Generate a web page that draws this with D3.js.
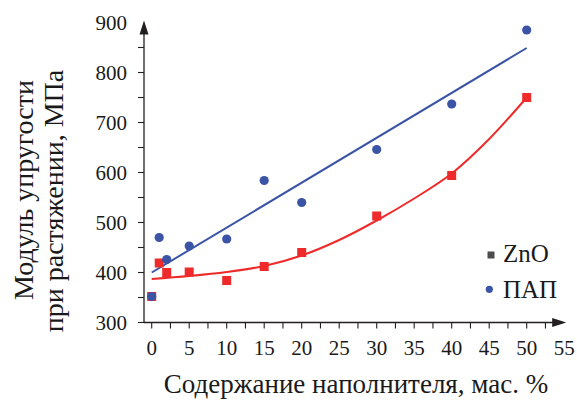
<!DOCTYPE html>
<html>
<head>
<meta charset="utf-8">
<script src="https://cdn.jsdelivr.net/npm/d3@7"></script>
<style>
  body { margin: 0; background: #fff; }
</style>
</head>
<body>
<div id="chart"></div>
<script>
// filler content, wt. %
var zno_x = [0, 1, 2, 5, 10, 15, 20, 30, 40, 50];
var zno_y = [352, 419, 400, 401, 384, 412, 440, 513, 594, 750];
var pap_x = [0, 1, 2, 5, 10, 15, 20, 30, 40, 50];
var pap_y = [352, 470, 426, 453, 467, 584, 540, 646, 737, 885];

// trend lines
var zno_fit_x = [0, 5, 10, 15, 20, 25, 30, 35, 40, 45, 50];
var zno_fit_y = [387, 393, 401, 413, 434, 465, 504, 548, 598, 667, 750];
var pap_fit_x = [0, 50];
var pap_fit_y = [400, 849];

var y_ticks = [300, 400, 500, 600, 700, 800, 900];
var x_ticks = [0, 5, 10, 15, 20, 25, 30, 35, 40, 45, 50, 55];
var legend_names = ["ZnO", "ПАП"];

var W = 577, H = 401;
var FONT = "'Liberation Serif'";
var svg = d3.select("#chart").append("svg")
    .attr("width", W)
    .attr("height", H);

var x = d3.scaleLinear().domain([0, 55]).range([151.7, 564.2]);
var y = d3.scaleLinear().domain([300, 900]).range([322.5, 22.5]);

var axisColor = "#231f20";
var textColor = "#1a1a1a";
var blue = "#3b54a5", red = "#ee2a2a";
var x0 = 144; // where the y axis sits

// y axis line + arrow
svg.append("line")
    .attr("x1", x0).attr("x2", x0)
    .attr("y1", y(300)).attr("y2", y(900) + 4)
    .attr("stroke", axisColor).attr("stroke-width", 1.3);
svg.append("path")
    .attr("d", "M" + x0 + "," + (y(900) - 2) + "L" + (x0 - 4.5) + "," + (y(900) + 12) + "L" + (x0 + 4.5) + "," + (y(900) + 12) + "Z")
    .attr("fill", axisColor);

// x axis line + arrow
svg.append("line")
    .attr("x1", x0).attr("x2", x(55) - 4)
    .attr("y1", y(300)).attr("y2", y(300))
    .attr("stroke", axisColor).attr("stroke-width", 1.3);
svg.append("path")
    .attr("d", "M" + (x(55) + 2) + "," + y(300) + "L" + (x(55) - 12) + "," + (y(300) - 4.5) + "L" + (x(55) - 12) + "," + (y(300) + 4.5) + "Z")
    .attr("fill", axisColor);

// y ticks (major + minor), all on the left side
var yTickVals = d3.range(300, 900, 50);
svg.selectAll(".ytick").data(yTickVals).enter().append("line")
    .attr("x1", x0 - 6).attr("x2", x0)
    .attr("y1", function (d) { return y(d); })
    .attr("y2", function (d) { return y(d); })
    .attr("stroke", axisColor).attr("stroke-width", 1.1);

svg.selectAll(".ylab").data(y_ticks).enter().append("text")
    .attr("x", 127)
    .attr("y", function (d) { return y(d) + 7; })
    .attr("text-anchor", "end")
    .attr("fill", textColor)
    .style("font-family", FONT)
    .style("font-size", "21px")
    .text(function (d) { return d; });

// x ticks every 2.5, below the axis
var xTickVals = d3.range(0, 55, 2.5);
svg.selectAll(".xtick").data(xTickVals).enter().append("line")
    .attr("x1", function (d) { return x(d); })
    .attr("x2", function (d) { return x(d); })
    .attr("y1", y(300)).attr("y2", y(300) + 6)
    .attr("stroke", axisColor).attr("stroke-width", 1.1);

svg.selectAll(".xlab").data(x_ticks).enter().append("text")
    .attr("x", function (d) { return x(d); })
    .attr("y", 355)
    .attr("text-anchor", "middle")
    .attr("fill", textColor)
    .style("font-family", FONT)
    .style("font-size", "21px")
    .text(function (d) { return d; });

// axis titles
svg.append("text")
    .attr("x", 356).attr("y", 393)
    .attr("text-anchor", "middle")
    .attr("fill", textColor)
    .style("font-family", FONT)
    .style("font-size", "27px")
    .text("Содержание наполнителя, мас. %");

svg.append("text")
    .attr("transform", "translate(33,190) rotate(-90)")
    .attr("text-anchor", "middle")
    .attr("fill", textColor)
    .style("font-family", FONT)
    .style("font-size", "28px")
    .text("Модуль упругости");
svg.append("text")
    .attr("transform", "translate(63,201) rotate(-90)")
    .attr("text-anchor", "middle")
    .attr("fill", textColor)
    .style("font-family", FONT)
    .style("font-size", "28px")
    .text("при растяжении, МПа");

// trend lines
var zFit = zno_fit_x.map(function (d, i) { return [d, zno_fit_y[i]]; });
var pFit = pap_fit_x.map(function (d, i) { return [d, pap_fit_y[i]]; });
var line = d3.line()
    .x(function (d) { return x(d[0]); })
    .y(function (d) { return y(d[1]); })
    .curve(d3.curveCatmullRom);

svg.append("path").datum(zFit)
    .attr("d", line).attr("fill", "none")
    .attr("stroke", red).attr("stroke-width", 2);
svg.append("path").datum(pFit)
    .attr("d", line).attr("fill", "none")
    .attr("stroke", blue).attr("stroke-width", 2);

// points: squares for ZnO, circles for ПАП on top
var zPts = zno_x.map(function (d, i) { return [d, zno_y[i]]; });
var pPts = pap_x.map(function (d, i) { return [d, pap_y[i]]; });
var sq = 9;
svg.selectAll(".zno").data(zPts).enter().append("rect")
    .attr("x", function (d) { return x(d[0]) - sq / 2; })
    .attr("y", function (d) { return y(d[1]) - sq / 2; })
    .attr("width", sq).attr("height", sq)
    .attr("fill", red);
svg.selectAll(".pap").data(pPts).enter().append("circle")
    .attr("cx", function (d) { return x(d[0]); })
    .attr("cy", function (d) { return y(d[1]); })
    .attr("r", 4.6)
    .attr("fill", blue);

// legend
svg.append("rect")
    .attr("x", 487.5).attr("y", 251.5).attr("width", 7).attr("height", 7)
    .attr("fill", "#4d4d4d");
svg.append("circle")
    .attr("cx", 489.3).attr("cy", 289.3).attr("r", 3.6)
    .attr("fill", blue);
svg.selectAll(".leg").data(legend_names).enter().append("text")
    .attr("x", 503)
    .attr("y", function (d, i) { return 262 + i * 36; })
    .attr("fill", textColor)
    .style("font-family", FONT)
    .style("font-size", "25px")
    .text(function (d) { return d; });
</script>
</body>
</html>
